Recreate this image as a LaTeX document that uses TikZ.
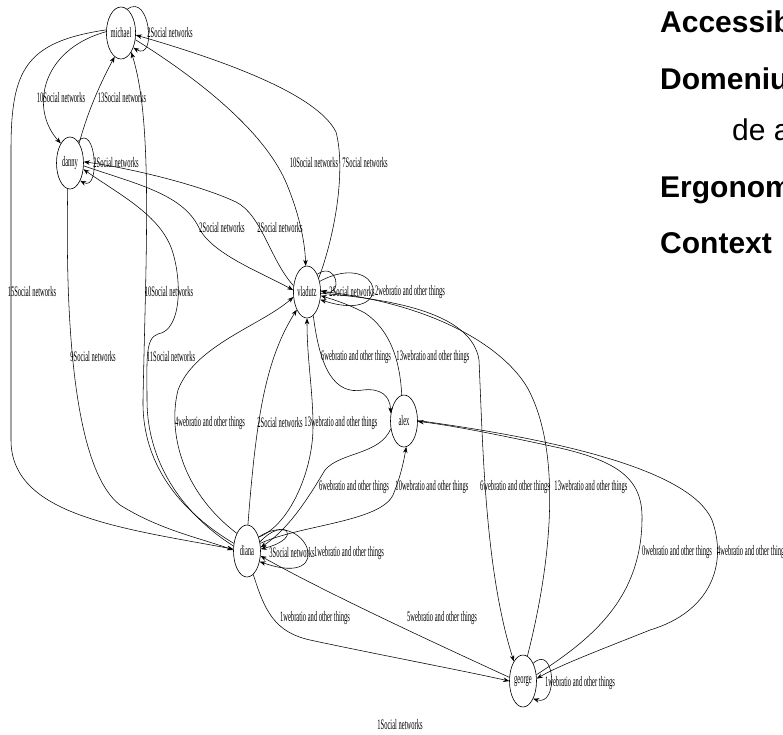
\documentclass[tikz,border=0pt]{standalone}
\usepackage{graphicx}
\usepackage{fontspec}
\setmainfont{Liberation Serif}
\newfontfamily\slidefont{Liberation Sans}
\usetikzlibrary{arrows.meta,shapes.geometric}
\newcommand{\glab}[1]{\scalebox{0.45}[1]{\fontsize{14.5}{14.5}\selectfont #1}}
\tikzset{
  gnode/.style={ellipse, draw, line width=0.6pt, minimum width=27pt, minimum height=52pt, inner sep=0pt},
  gedge/.style={line width=0.55pt, -{Stealth[length=6pt,width=4.5pt]}},
  elab/.style={inner sep=0pt},
  slide/.style={anchor=base west, inner sep=0pt, font={\slidefont\fontsize{30}{30}\selectfont}}
}
\begin{document}
\begin{tikzpicture}[x=1pt,y=-1pt]
\useasboundingbox (0,0) rectangle (783,734);
\clip (0,0) rectangle (783,734);
\fill[white] (0,0) rectangle (783,734);
% nodes
\node[gnode] (M)  at (121,33)  {\glab{michael}};
\node[gnode] (Dn) at (70,163)  {\glab{danny}};
\node[gnode] (V)  at (307,292) {\glab{vladutz}};
\node[gnode] (A)  at (404,421) {\glab{alex}};
\node[gnode] (Di) at (247,551) {\glab{diana}};
\node[gnode] (G)  at (523,681) {\glab{george}};
% slide text
\node[slide] (t1) at (660,32)  {\bfseries Accessib};
\node[slide] (t2) at (660,89)  {\bfseries Domeniul};
\node[slide] (t3) at (732,140) {de a};
\node[slide] (t4) at (660,197) {\bfseries Ergonom};
\node[slide] (t5) at (660,253) {\bfseries Context};
% loops
\draw[gedge] (M.75) .. controls (150,-8) and (157,62) .. (M.-50);
\draw[gedge] (Dn.70) .. controls (96,122) and (101,192) .. (Dn.-60);
\draw[gedge] (V.60) .. controls (337,260) and (344,297) .. (V.5);
\draw[gedge] (V.40) .. controls (382,248) and (398,325) .. (V.-30);
\draw[gedge] (Di.35) .. controls (285,515) and (305,538) .. (Di.8);
\draw[gedge] (Di.50) .. controls (305,505) and (340,590) .. (Di.-40);
\draw[gedge] (G.60) .. controls (555,643) and (559,707) .. (G.-60);
% social networks edges
\draw[gedge] (M.175) .. controls (40,50) and (30,110) .. (Dn.115);
\draw[gedge] (Dn.65) .. controls (88,110) and (102,80) .. (M.-105);
\draw[gedge] (M.168) .. controls (25,42) and (11,70) .. (11,150) -- (11,440) .. controls (11,515) and (120,528) .. (Di.172);
\draw[gedge] (Dn.-95) .. controls (65,330) and (75,470) .. (120,505) .. controls (160,530) and (200,538) .. (Di.176);
\draw[gedge] (Di.150) .. controls (170,505) and (142,455) .. (143,400) .. controls (146,250) and (153,120) .. (M.-62);
\draw[gedge] (Di.160) .. controls (180,512) and (147,460) .. (147,400) .. controls (147,360) and (145,338) .. (158,334) .. controls (182,330) and (182,280) .. (172,250) .. controls (160,215) and (120,195) .. (Dn.-25);
\draw[gedge] (M.-25) .. controls (200,80) and (262,130) .. (285,180) .. controls (298,210) and (305,240) .. (V.93);
\draw[gedge] (V.50) .. controls (335,235) and (346,170) .. (336,132) .. controls (320,100) and (250,68) .. (M.-8);
\draw[gedge] (Dn.-12) .. controls (140,185) and (185,195) .. (200,230) .. controls (215,255) and (260,272) .. (V.172);
\draw[gedge] (V.155) .. controls (270,260) and (262,215) .. (236,202) .. controls (200,185) and (130,168) .. (Dn.5);
\draw[gedge] (Di.88) .. controls (256,420) and (265,360) .. (V.-120);
% webratio edges
\draw[gedge] (Di.50) .. controls (290,525) and (313,470) .. (313,427) .. controls (313,390) and (307,360) .. (V.-90);
\draw[gedge] (Di.120) .. controls (180,490) and (168,430) .. (178,390) .. controls (195,345) and (262,325) .. (V.-160);
\draw[gedge] (V.-75) .. controls (320,370) and (335,395) .. (363,390) .. controls (380,388) and (390,395) .. (A.150);
\draw[gedge] (A.95) .. controls (400,360) and (390,330) .. (365,313) .. controls (350,305) and (335,300) .. (V.-15);
\draw[gedge] (A.-150) .. controls (380,455) and (340,452) .. (325,470) .. controls (310,495) and (290,528) .. (Di.15);
\draw[gedge] (Di.30) .. controls (300,525) and (380,522) .. (393,495) .. controls (400,478) and (403,465) .. (A.-85);
\draw[gedge] (V.-5) .. controls (400,300) and (472,315) .. (479,360) .. controls (483,450) and (485,570) .. (G.115);
\draw[gedge] (G.80) .. controls (552,560) and (562,450) .. (527,387) .. controls (505,350) and (440,305) .. (V.3);
\draw[gedge] (G.25) .. controls (590,640) and (641,600) .. (642,520) .. controls (643,480) and (620,462) .. (560,448) .. controls (500,435) and (450,425) .. (A.-2);
\draw[gedge] (A.2) .. controls (560,440) and (690,470) .. (712,520) .. controls (728,565) and (710,612) .. (650,630) .. controls (600,650) and (560,665) .. (G.10);
\draw[gedge] (Di.-75) .. controls (265,612) and (275,632) .. (310,640) .. controls (380,655) and (460,670) .. (G.180);
\draw[gedge] (G.165) .. controls (450,650) and (330,595) .. (Di.-20);
% labels
\node[elab] (l1)  at (170,33)  {\glab{2Social networks}};
\node[elab] (l2)  at (116,163) {\glab{2Social networks}};
\node[elab] (l3)  at (61,98)   {\glab{10Social networks}};
\node[elab] (l4)  at (122,98)  {\glab{13Social networks}};
\node[elab] (l5)  at (32,292)  {\glab{15Social networks}};
\node[elab] (l6)  at (93,357)  {\glab{9Social networks}};
\node[elab] (l7)  at (169,292) {\glab{10Social networks}};
\node[elab] (l8)  at (171,357) {\glab{11Social networks}};
\node[elab] (l9)  at (314,163) {\glab{10Social networks}};
\node[elab] (l10) at (365,163) {\glab{7Social networks}};
\node[elab] (l11) at (222,228) {\glab{2Social networks}};
\node[elab] (l12) at (280,228) {\glab{2Social networks}};
\node[elab] (l13) at (352,292) {\glab{2Social networks}};
\node[elab] (l14) at (410,292) {\glab{2webratio and other things}};
\node[elab] (l15) at (210,423) {\glab{4webratio and other things}};
\node[elab] (l16) at (280,423) {\glab{2Social networks}};
\node[elab] (l17) at (341,423) {\glab{13webratio and other things}};
\node[elab] (l18) at (356,357) {\glab{6webratio and other things}};
\node[elab] (l19) at (433,357) {\glab{13webratio and other things}};
\node[elab] (l20) at (354,487) {\glab{6webratio and other things}};
\node[elab] (l21) at (432,487) {\glab{10webratio and other things}};
\node[elab] (l22) at (515,487) {\glab{6webratio and other things}};
\node[elab] (l23) at (591,487) {\glab{13webratio and other things}};
\node[elab] (l24) at (677,552) {\glab{0webratio and other things}};
\node[elab] (l25) at (752,552) {\glab{4webratio and other things}};
\node[elab] (l26) at (292,553) {\glab{3Social networks}};
\node[elab] (l27) at (349,553) {\glab{1webratio and other things}};
\node[elab] (l28) at (315,618) {\glab{1webratio and other things}};
\node[elab] (l29) at (442,618) {\glab{5webratio and other things}};
\node[elab] (l30) at (580,683) {\glab{1webratio and other things}};
\node[elab] (l31) at (400,725) {\glab{1Social networks}};
\end{tikzpicture}
\end{document}
